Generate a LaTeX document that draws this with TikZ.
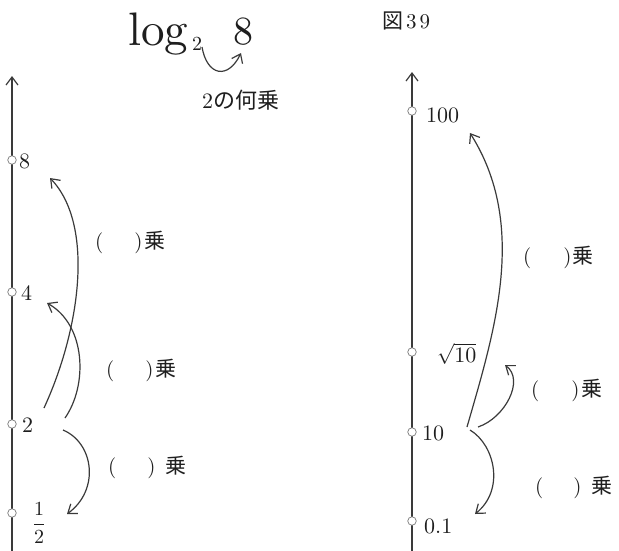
\documentclass[tikz,border=0pt]{standalone}
\usepackage{fontspec}
\setmainfont{lmroman10-regular}[Extension=.otf]
\newfontfamily\jp{Noto Sans CJK JP}
\usetikzlibrary{arrows.meta}
\definecolor{linec}{HTML}{3A3A3A}
\definecolor{txtc}{HTML}{1E1E1E}
\definecolor{dotc}{HTML}{7A7A7A}
\begin{document}
\begin{tikzpicture}[x=1pt,y=-1pt,
  axisln/.style={draw=linec, line width=1.3pt, -{Straight Barb[length=8pt,width=12pt,line width=1.2pt]}},
  arr/.style={draw=linec, line width=1.2pt, -{Straight Barb[length=8pt,width=12pt,line width=1.2pt]}},
  dot/.style={circle, draw=dotc, fill=white, inner sep=0pt, minimum size=8.5pt, line width=0.7pt},
  lab/.style={text=txtc, inner sep=0pt, font=\fontsize{22}{26}\selectfont, anchor=base west},
  mul/.style={text=txtc, inner sep=0pt, font=\fontsize{21}{25}\selectfont, anchor=west},
]
\useasboundingbox (0,0) rectangle (619,550);

% ---- title ----
\node[text=txtc, inner sep=0pt, anchor=base west, font=\fontsize{47}{52}\selectfont] (log) at (128,45) {log};
\node[text=txtc, inner sep=0pt, anchor=base west, font=\fontsize{20}{24}\selectfont] (sub) at (192,50) {2};
\node[text=txtc, inner sep=0pt, anchor=base west, font=\fontsize{40}{46}\selectfont] (eight) at (233,44) {8};
\coordinate (ta) at (202,47);
\coordinate (tb) at (241,53);
\draw[arr] (ta) .. controls (207,76) and (228,80) .. (tb);
\node[text=txtc, inner sep=0pt, anchor=west, font=\fontsize{22}{26}\selectfont] (q) at (202,100) {2{\jp の何乗}};
\node[text=txtc, inner sep=0pt, anchor=west, font=\fontsize{21}{25}\selectfont] (fig) at (382,21) {{\jp 図}\hspace{3pt}3\hspace{3pt}9};

% ---- left axis ----
\coordinate (lbot) at (12,552);
\coordinate (ltop) at (12,76);
\draw[axisln] (lbot) -- (ltop);
\node[dot] (d8) at (12,160) {};
\node[dot] (d4) at (12,292) {};
\node[dot] (d2) at (12,424) {};
\node[dot] (dh) at (12,513) {};
\node[lab] (n8) at (19,168) {8};
\node[lab] (n4) at (21,300) {4};
\node[lab] (n2) at (22,432) {2};
\node[text=txtc, inner sep=0pt, font=\fontsize{20}{24}\selectfont] (nh) at (39,523) {$\displaystyle\frac{\hbox{1}}{\hbox{2}}$};

\coordinate (a1s) at (44,408);
\coordinate (a1e) at (50,178);
\coordinate (a2s) at (65,418);
\coordinate (a2e) at (47,303);
\coordinate (a3s) at (63,430);
\coordinate (a3e) at (67,514);
\draw[arr] (a1s) .. controls (80,330) and (95,225) .. (a1e);
\draw[arr] (a2s) .. controls (88,385) and (86,325) .. (a2e);
\draw[arr] (a3s) .. controls (94,443) and (100,490) .. (a3e);

\node[mul] (m1) at (95,242) {(\hspace{31pt})\hspace{2pt}{\jp 乗}};
\node[mul] (m2) at (106,370) {(\hspace{31pt})\hspace{2pt}{\jp 乗}};
\node[mul] (m3) at (108,467) {(\hspace{31pt})\hspace{10pt}{\jp 乗}};

% ---- right axis ----
\coordinate (rbot) at (412,552);
\coordinate (rtop) at (412,72);
\draw[axisln] (rbot) -- (rtop);
\node[dot] (e100) at (412,111) {};
\node[dot] (er) at (412,352) {};
\node[dot] (e10) at (412,432) {};
\node[dot] (e01) at (412,521) {};
\node[lab] (k100) at (426,122) {100};
\node[lab] (kr) at (437,362) {$\sqrt{\hbox{10}}$};
\node[lab] (k10) at (422,440) {10};
\node[lab] (k01) at (424,533) {0.1};

\coordinate (b1s) at (467,427);
\coordinate (b1e) at (470,133);
\coordinate (b2s) at (478,427);
\coordinate (b2e) at (505,365);
\coordinate (b3s) at (470,430);
\coordinate (b3e) at (475,514);
\draw[arr] (b1s) .. controls (495,330) and (528,225) .. (b1e);
\draw[arr] (b2s) .. controls (505,418) and (525,380) .. (b2e);
\draw[arr] (b3s) .. controls (495,445) and (505,490) .. (b3e);

\node[mul] (r1) at (523,257) {(\hspace{32pt})\hspace{1pt}{\jp 乗}};
\node[mul] (r2) at (531,390) {(\hspace{32pt})\hspace{2pt}{\jp 乗}};
\node[mul] (r3) at (535,487) {(\hspace{30pt})\hspace{10pt}{\jp 乗}};
\end{tikzpicture}
\end{document}
